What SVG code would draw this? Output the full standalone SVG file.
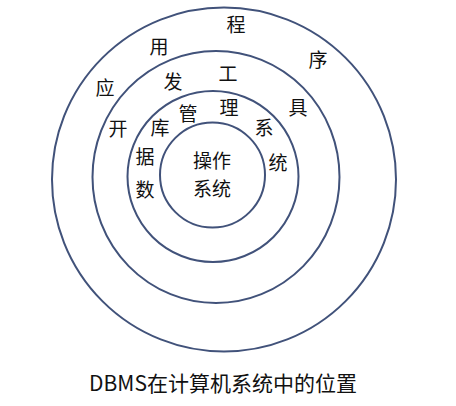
<svg xmlns="http://www.w3.org/2000/svg" width="456" height="406" viewBox="0 0 456 406">
<style>
.ring{fill:none;stroke:#41527A;stroke-width:2}
.t{font-family:"Noto Sans CJK SC","Noto Sans",sans-serif;font-size:19px;fill:#111;text-anchor:middle}
.cap{font-size:21px}
</style>
<rect width="456" height="406" fill="#fff"/>
<g id="app-ring">
<circle class="ring" cx="224" cy="179.5" r="172"/>
<text class="t" x="159" y="54">用</text>
<text class="t" x="236" y="32">程</text>
<text class="t" x="318" y="67">序</text>
<text class="t" x="105" y="95">应</text>
</g>
<g id="dev-ring">
<ellipse class="ring" cx="216" cy="177" rx="123.5" ry="126"/>
<text class="t" x="118" y="136">开</text>
<text class="t" x="173" y="89">发</text>
<text class="t" x="228" y="81">工</text>
<text class="t" x="298" y="115">具</text>
</g>
<g id="dbms-ring">
<circle class="ring" cx="213" cy="176.5" r="85.5"/>
<text class="t" x="145" y="197">数</text>
<text class="t" x="145" y="164">据</text>
<text class="t" x="160" y="135">库</text>
<text class="t" x="188" y="121">管</text>
<text class="t" x="229" y="115">理</text>
<text class="t" x="264" y="135">系</text>
<text class="t" x="278" y="170">统</text>
</g>
<g id="os">
<circle class="ring" cx="212.5" cy="175" r="52.5"/>
<text class="t" x="212" y="168">操作</text>
<text class="t" x="212" y="196">系统</text>
</g>
<g id="caption">
<text class="t cap" x="223" y="391">DBMS在计算机系统中的位置</text>
</g>
</svg>
